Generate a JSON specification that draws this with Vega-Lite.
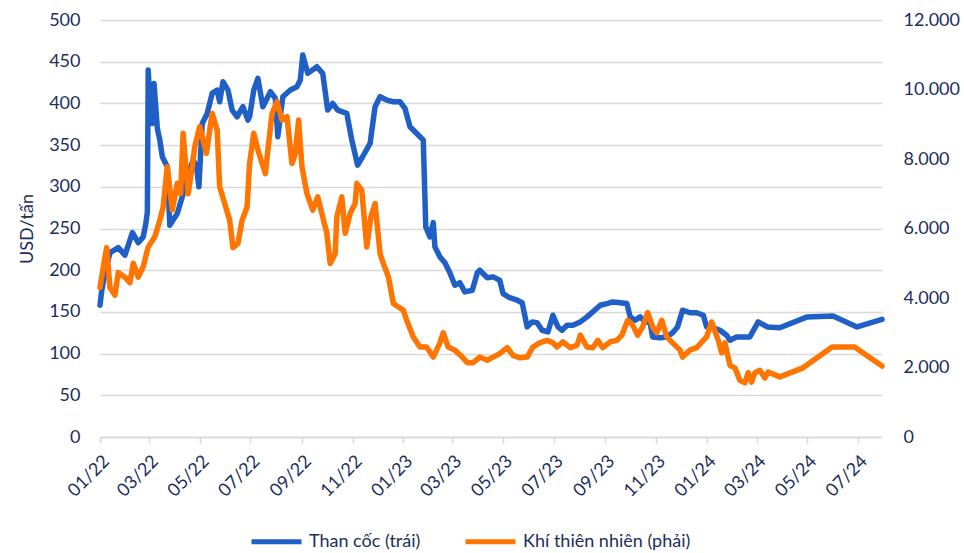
{
  "$schema": "https://vega.github.io/schema/vega-lite/v6.json",
  "width": 782,
  "height": 417,
  "autosize": {"type": "none"},
  "padding": {"left": 100, "top": 20, "right": 82, "bottom": 116},
  "background": "white",
  "config": {
    "font": "Lato",
    "view": {"stroke": null},
    "axis": {"labelFontSize": 18, "labelColor": "#1c2e5e", "titleColor": "#1c2e5e", "titleFontSize": 18, "titleFontWeight": "normal"}
  },
  "datasets": {
    "coke": [
      {"d":"2022-01-01","s":"Than cốc (trái)","v":158},{"d":"2022-01-03","s":"Than cốc (trái)","v":175},{"d":"2022-01-07","s":"Than cốc (trái)","v":197},{"d":"2022-01-13","s":"Than cốc (trái)","v":221},{"d":"2022-01-23","s":"Than cốc (trái)","v":227},{"d":"2022-01-31","s":"Than cốc (trái)","v":218},{"d":"2022-02-09","s":"Than cốc (trái)","v":245},{"d":"2022-02-16","s":"Than cốc (trái)","v":233},{"d":"2022-02-22","s":"Than cốc (trái)","v":240},{"d":"2022-02-25","s":"Than cốc (trái)","v":255},{"d":"2022-02-27","s":"Than cốc (trái)","v":270},{"d":"2022-02-28","s":"Than cốc (trái)","v":440},{"d":"2022-03-02","s":"Than cốc (trái)","v":400},{"d":"2022-03-05","s":"Than cốc (trái)","v":376},{"d":"2022-03-07","s":"Than cốc (trái)","v":424},{"d":"2022-03-11","s":"Than cốc (trái)","v":370},{"d":"2022-03-14","s":"Than cốc (trái)","v":356},{"d":"2022-03-17","s":"Than cốc (trái)","v":336},{"d":"2022-03-23","s":"Than cốc (trái)","v":324},{"d":"2022-03-26","s":"Than cốc (trái)","v":254},{"d":"2022-04-04","s":"Than cốc (trái)","v":268},{"d":"2022-04-10","s":"Than cốc (trái)","v":288},{"d":"2022-04-17","s":"Than cốc (trái)","v":316},{"d":"2022-04-23","s":"Than cốc (trái)","v":332},{"d":"2022-04-27","s":"Than cốc (trái)","v":325},{"d":"2022-04-30","s":"Than cốc (trái)","v":300},{"d":"2022-05-04","s":"Than cốc (trái)","v":376},{"d":"2022-05-10","s":"Than cốc (trái)","v":388},{"d":"2022-05-16","s":"Than cốc (trái)","v":412},{"d":"2022-05-22","s":"Than cốc (trái)","v":416},{"d":"2022-05-25","s":"Than cốc (trái)","v":402},{"d":"2022-05-29","s":"Than cốc (trái)","v":426},{"d":"2022-06-04","s":"Than cốc (trái)","v":416},{"d":"2022-06-09","s":"Than cốc (trái)","v":392},{"d":"2022-06-15","s":"Than cốc (trái)","v":384},{"d":"2022-06-22","s":"Than cốc (trái)","v":396},{"d":"2022-06-28","s":"Than cốc (trái)","v":380},{"d":"2022-06-30","s":"Than cốc (trái)","v":384},{"d":"2022-07-05","s":"Than cốc (trái)","v":416},{"d":"2022-07-10","s":"Than cốc (trái)","v":430},{"d":"2022-07-16","s":"Than cốc (trái)","v":396},{"d":"2022-07-25","s":"Than cốc (trái)","v":414},{"d":"2022-07-31","s":"Than cốc (trái)","v":406},{"d":"2022-08-03","s":"Than cốc (trái)","v":360},{"d":"2022-08-09","s":"Than cốc (trái)","v":408},{"d":"2022-08-18","s":"Than cốc (trái)","v":416},{"d":"2022-08-26","s":"Than cốc (trái)","v":420},{"d":"2022-08-30","s":"Than cốc (trái)","v":428},{"d":"2022-09-02","s":"Than cốc (trái)","v":458},{"d":"2022-09-08","s":"Than cốc (trái)","v":436},{"d":"2022-09-19","s":"Than cốc (trái)","v":444},{"d":"2022-09-26","s":"Than cốc (trái)","v":436},{"d":"2022-10-02","s":"Than cốc (trái)","v":392},{"d":"2022-10-08","s":"Than cốc (trái)","v":400},{"d":"2022-10-14","s":"Than cốc (trái)","v":392},{"d":"2022-10-25","s":"Than cốc (trái)","v":388},{"d":"2022-10-31","s":"Than cốc (trái)","v":356},{"d":"2022-11-07","s":"Than cốc (trái)","v":326},{"d":"2022-11-13","s":"Than cốc (trái)","v":336},{"d":"2022-11-22","s":"Than cốc (trái)","v":352},{"d":"2022-11-28","s":"Than cốc (trái)","v":396},{"d":"2022-12-04","s":"Than cốc (trái)","v":408},{"d":"2022-12-12","s":"Than cốc (trái)","v":404},{"d":"2022-12-20","s":"Than cốc (trái)","v":402},{"d":"2022-12-28","s":"Than cốc (trái)","v":402},{"d":"2023-01-03","s":"Than cốc (trái)","v":394},{"d":"2023-01-09","s":"Than cốc (trái)","v":372},{"d":"2023-01-21","s":"Than cốc (trái)","v":360},{"d":"2023-01-25","s":"Than cốc (trái)","v":356},{"d":"2023-01-28","s":"Than cốc (trái)","v":252},{"d":"2023-02-02","s":"Than cốc (trái)","v":240},{"d":"2023-02-06","s":"Than cốc (trái)","v":257},{"d":"2023-02-08","s":"Than cốc (trái)","v":228},{"d":"2023-02-14","s":"Than cốc (trái)","v":216},{"d":"2023-02-20","s":"Than cốc (trái)","v":209},{"d":"2023-02-26","s":"Than cốc (trái)","v":197},{"d":"2023-03-04","s":"Than cốc (trái)","v":182},{"d":"2023-03-10","s":"Than cốc (trái)","v":185},{"d":"2023-03-16","s":"Than cốc (trái)","v":174},{"d":"2023-03-25","s":"Than cốc (trái)","v":176},{"d":"2023-03-31","s":"Than cốc (trái)","v":197},{"d":"2023-04-03","s":"Than cốc (trái)","v":200},{"d":"2023-04-12","s":"Than cốc (trái)","v":191},{"d":"2023-04-19","s":"Than cốc (trái)","v":192},{"d":"2023-04-27","s":"Than cốc (trái)","v":188},{"d":"2023-05-01","s":"Than cốc (trái)","v":172},{"d":"2023-05-09","s":"Than cốc (trái)","v":167},{"d":"2023-05-18","s":"Than cốc (trái)","v":164},{"d":"2023-05-24","s":"Than cốc (trái)","v":161},{"d":"2023-05-30","s":"Than cốc (trái)","v":132},{"d":"2023-06-05","s":"Than cốc (trái)","v":138},{"d":"2023-06-11","s":"Than cốc (trái)","v":137},{"d":"2023-06-17","s":"Than cốc (trái)","v":128},{"d":"2023-06-24","s":"Than cốc (trái)","v":126},{"d":"2023-06-30","s":"Than cốc (trái)","v":146},{"d":"2023-07-06","s":"Than cốc (trái)","v":132},{"d":"2023-07-11","s":"Than cốc (trái)","v":128},{"d":"2023-07-17","s":"Than cốc (trái)","v":134},{"d":"2023-07-24","s":"Than cốc (trái)","v":134},{"d":"2023-08-02","s":"Than cốc (trái)","v":138},{"d":"2023-08-10","s":"Than cốc (trái)","v":144},{"d":"2023-08-17","s":"Than cốc (trái)","v":150},{"d":"2023-08-26","s":"Than cốc (trái)","v":158},{"d":"2023-09-03","s":"Than cốc (trái)","v":160},{"d":"2023-09-10","s":"Than cốc (trái)","v":162},{"d":"2023-09-19","s":"Than cốc (trái)","v":161},{"d":"2023-09-27","s":"Than cốc (trái)","v":160},{"d":"2023-10-01","s":"Than cốc (trái)","v":144},{"d":"2023-10-07","s":"Than cốc (trái)","v":140},{"d":"2023-10-13","s":"Than cốc (trái)","v":144},{"d":"2023-10-19","s":"Than cốc (trái)","v":138},{"d":"2023-10-25","s":"Than cốc (trái)","v":137},{"d":"2023-10-28","s":"Than cốc (trái)","v":120},{"d":"2023-11-06","s":"Than cốc (trái)","v":119},{"d":"2023-11-14","s":"Than cốc (trái)","v":120},{"d":"2023-11-21","s":"Than cốc (trái)","v":125},{"d":"2023-11-27","s":"Than cốc (trái)","v":132},{"d":"2023-12-03","s":"Than cốc (trái)","v":152},{"d":"2023-12-12","s":"Than cốc (trái)","v":149},{"d":"2023-12-20","s":"Than cốc (trái)","v":149},{"d":"2023-12-28","s":"Than cốc (trái)","v":146},{"d":"2024-01-01","s":"Than cốc (trái)","v":132},{"d":"2024-01-09","s":"Than cốc (trái)","v":131},{"d":"2024-01-17","s":"Than cốc (trái)","v":128},{"d":"2024-01-25","s":"Than cốc (trái)","v":122},{"d":"2024-01-29","s":"Than cốc (trái)","v":116},{"d":"2024-02-06","s":"Than cốc (trái)","v":120},{"d":"2024-02-22","s":"Than cốc (trái)","v":120},{"d":"2024-03-03","s":"Than cốc (trái)","v":138},{"d":"2024-03-14","s":"Than cốc (trái)","v":132},{"d":"2024-03-29","s":"Than cốc (trái)","v":131},{"d":"2024-05-01","s":"Than cốc (trái)","v":144},{"d":"2024-06-01","s":"Than cốc (trái)","v":145},{"d":"2024-06-30","s":"Than cốc (trái)","v":132},{"d":"2024-07-30","s":"Than cốc (trái)","v":141}
    ],
    "gas": [
      {"d":"2022-01-01","s":"Khí thiên nhiên (phải)","v":4300},{"d":"2022-01-05","s":"Khí thiên nhiên (phải)","v":4900},{"d":"2022-01-09","s":"Khí thiên nhiên (phải)","v":5450},{"d":"2022-01-13","s":"Khí thiên nhiên (phải)","v":4300},{"d":"2022-01-19","s":"Khí thiên nhiên (phải)","v":4080},{"d":"2022-01-23","s":"Khí thiên nhiên (phải)","v":4730},{"d":"2022-01-31","s":"Khí thiên nhiên (phải)","v":4600},{"d":"2022-02-06","s":"Khí thiên nhiên (phải)","v":4440},{"d":"2022-02-10","s":"Khí thiên nhiên (phải)","v":5000},{"d":"2022-02-16","s":"Khí thiên nhiên (phải)","v":4600},{"d":"2022-02-22","s":"Khí thiên nhiên (phải)","v":4900},{"d":"2022-02-28","s":"Khí thiên nhiên (phải)","v":5470},{"d":"2022-03-08","s":"Khí thiên nhiên (phải)","v":5760},{"d":"2022-03-14","s":"Khí thiên nhiên (phải)","v":6240},{"d":"2022-03-18","s":"Khí thiên nhiên (phải)","v":6620},{"d":"2022-03-23","s":"Khí thiên nhiên (phải)","v":7780},{"d":"2022-03-29","s":"Khí thiên nhiên (phải)","v":6530},{"d":"2022-04-04","s":"Khí thiên nhiên (phải)","v":7300},{"d":"2022-04-08","s":"Khí thiên nhiên (phải)","v":7000},{"d":"2022-04-11","s":"Khí thiên nhiên (phải)","v":8740},{"d":"2022-04-17","s":"Khí thiên nhiên (phải)","v":7000},{"d":"2022-04-22","s":"Khí thiên nhiên (phải)","v":7780},{"d":"2022-04-25","s":"Khí thiên nhiên (phải)","v":8350},{"d":"2022-05-01","s":"Khí thiên nhiên (phải)","v":8930},{"d":"2022-05-09","s":"Khí thiên nhiên (phải)","v":8160},{"d":"2022-05-16","s":"Khí thiên nhiên (phải)","v":9310},{"d":"2022-05-22","s":"Khí thiên nhiên (phải)","v":8830},{"d":"2022-05-25","s":"Khí thiên nhiên (phải)","v":7200},{"d":"2022-05-31","s":"Khí thiên nhiên (phải)","v":6720},{"d":"2022-06-06","s":"Khí thiên nhiên (phải)","v":6240},{"d":"2022-06-10","s":"Khí thiên nhiên (phải)","v":5450},{"d":"2022-06-16","s":"Khí thiên nhiên (phải)","v":5570},{"d":"2022-06-21","s":"Khí thiên nhiên (phải)","v":6240},{"d":"2022-06-27","s":"Khí thiên nhiên (phải)","v":6620},{"d":"2022-06-30","s":"Khí thiên nhiên (phải)","v":7870},{"d":"2022-07-05","s":"Khí thiên nhiên (phải)","v":8740},{"d":"2022-07-10","s":"Khí thiên nhiên (phải)","v":8260},{"d":"2022-07-19","s":"Khí thiên nhiên (phải)","v":7580},{"d":"2022-07-22","s":"Khí thiên nhiên (phải)","v":8260},{"d":"2022-07-27","s":"Khí thiên nhiên (phải)","v":9310},{"d":"2022-08-02","s":"Khí thiên nhiên (phải)","v":9650},{"d":"2022-08-08","s":"Khí thiên nhiên (phải)","v":9120},{"d":"2022-08-14","s":"Khí thiên nhiên (phải)","v":9220},{"d":"2022-08-20","s":"Khí thiên nhiên (phải)","v":7870},{"d":"2022-08-24","s":"Khí thiên nhiên (phải)","v":8160},{"d":"2022-08-28","s":"Khí thiên nhiên (phải)","v":9120},{"d":"2022-09-01","s":"Khí thiên nhiên (phải)","v":7780},{"d":"2022-09-07","s":"Khí thiên nhiên (phải)","v":7010},{"d":"2022-09-14","s":"Khí thiên nhiên (phải)","v":6530},{"d":"2022-09-20","s":"Khí thiên nhiên (phải)","v":6910},{"d":"2022-09-25","s":"Khí thiên nhiên (phải)","v":6430},{"d":"2022-10-01","s":"Khí thiên nhiên (phải)","v":5860},{"d":"2022-10-05","s":"Khí thiên nhiên (phải)","v":4990},{"d":"2022-10-11","s":"Khí thiên nhiên (phải)","v":5280},{"d":"2022-10-13","s":"Khí thiên nhiên (phải)","v":6340},{"d":"2022-10-19","s":"Khí thiên nhiên (phải)","v":6910},{"d":"2022-10-23","s":"Khí thiên nhiên (phải)","v":5860},{"d":"2022-10-29","s":"Khí thiên nhiên (phải)","v":6430},{"d":"2022-11-04","s":"Khí thiên nhiên (phải)","v":6720},{"d":"2022-11-06","s":"Khí thiên nhiên (phải)","v":7300},{"d":"2022-11-12","s":"Khí thiên nhiên (phải)","v":7100},{"d":"2022-11-18","s":"Khí thiên nhiên (phải)","v":5470},{"d":"2022-11-23","s":"Khí thiên nhiên (phải)","v":6340},{"d":"2022-11-28","s":"Khí thiên nhiên (phải)","v":6720},{"d":"2022-12-04","s":"Khí thiên nhiên (phải)","v":5280},{"d":"2022-12-08","s":"Khí thiên nhiên (phải)","v":4990},{"d":"2022-12-14","s":"Khí thiên nhiên (phải)","v":4610},{"d":"2022-12-20","s":"Khí thiên nhiên (phải)","v":3840},{"d":"2022-12-26","s":"Khí thiên nhiên (phải)","v":3740},{"d":"2023-01-01","s":"Khí thiên nhiên (phải)","v":3650},{"d":"2023-01-05","s":"Khí thiên nhiên (phải)","v":3360},{"d":"2023-01-13","s":"Khí thiên nhiên (phải)","v":2880},{"d":"2023-01-21","s":"Khí thiên nhiên (phải)","v":2590},{"d":"2023-01-29","s":"Khí thiên nhiên (phải)","v":2590},{"d":"2023-02-06","s":"Khí thiên nhiên (phải)","v":2300},{"d":"2023-02-14","s":"Khí thiên nhiên (phải)","v":2710},{"d":"2023-02-18","s":"Khí thiên nhiên (phải)","v":3000},{"d":"2023-02-24","s":"Khí thiên nhiên (phải)","v":2590},{"d":"2023-03-04","s":"Khí thiên nhiên (phải)","v":2500},{"d":"2023-03-13","s":"Khí thiên nhiên (phải)","v":2300},{"d":"2023-03-19","s":"Khí thiên nhiên (phải)","v":2140},{"d":"2023-03-26","s":"Khí thiên nhiên (phải)","v":2140},{"d":"2023-04-03","s":"Khí thiên nhiên (phải)","v":2300},{"d":"2023-04-12","s":"Khí thiên nhiên (phải)","v":2210},{"d":"2023-04-19","s":"Khí thiên nhiên (phải)","v":2300},{"d":"2023-04-27","s":"Khí thiên nhiên (phải)","v":2400},{"d":"2023-05-06","s":"Khí thiên nhiên (phải)","v":2570},{"d":"2023-05-13","s":"Khí thiên nhiên (phải)","v":2350},{"d":"2023-05-21","s":"Khí thiên nhiên (phải)","v":2280},{"d":"2023-05-30","s":"Khí thiên nhiên (phải)","v":2300},{"d":"2023-06-06","s":"Khí thiên nhiên (phải)","v":2590},{"d":"2023-06-14","s":"Khí thiên nhiên (phải)","v":2710},{"d":"2023-06-23","s":"Khí thiên nhiên (phải)","v":2780},{"d":"2023-06-30","s":"Khí thiên nhiên (phải)","v":2710},{"d":"2023-07-05","s":"Khí thiên nhiên (phải)","v":2590},{"d":"2023-07-12","s":"Khí thiên nhiên (phải)","v":2740},{"d":"2023-07-21","s":"Khí thiên nhiên (phải)","v":2570},{"d":"2023-07-29","s":"Khí thiên nhiên (phải)","v":2640},{"d":"2023-08-02","s":"Khí thiên nhiên (phải)","v":2930},{"d":"2023-08-10","s":"Khí thiên nhiên (phải)","v":2590},{"d":"2023-08-17","s":"Khí thiên nhiên (phải)","v":2570},{"d":"2023-08-23","s":"Khí thiên nhiên (phải)","v":2780},{"d":"2023-08-29","s":"Khí thiên nhiên (phải)","v":2570},{"d":"2023-09-07","s":"Khí thiên nhiên (phải)","v":2740},{"d":"2023-09-15","s":"Khí thiên nhiên (phải)","v":2780},{"d":"2023-09-21","s":"Khí thiên nhiên (phải)","v":2930},{"d":"2023-09-28","s":"Khí thiên nhiên (phải)","v":3360},{"d":"2023-10-04","s":"Khí thiên nhiên (phải)","v":3220},{"d":"2023-10-10","s":"Khí thiên nhiên (phải)","v":2930},{"d":"2023-10-16","s":"Khí thiên nhiên (phải)","v":3170},{"d":"2023-10-22","s":"Khí thiên nhiên (phải)","v":3580},{"d":"2023-10-28","s":"Khí thiên nhiên (phải)","v":3170},{"d":"2023-11-02","s":"Khí thiên nhiên (phải)","v":3000},{"d":"2023-11-08","s":"Khí thiên nhiên (phải)","v":3360},{"d":"2023-11-14","s":"Khí thiên nhiên (phải)","v":2880},{"d":"2023-11-21","s":"Khí thiên nhiên (phải)","v":2710},{"d":"2023-11-30","s":"Khí thiên nhiên (phải)","v":2500},{"d":"2023-12-03","s":"Khí thiên nhiên (phải)","v":2300},{"d":"2023-12-12","s":"Khí thiên nhiên (phải)","v":2500},{"d":"2023-12-20","s":"Khí thiên nhiên (phải)","v":2570},{"d":"2023-12-28","s":"Khí thiên nhiên (phải)","v":2780},{"d":"2024-01-01","s":"Khí thiên nhiên (phải)","v":2880},{"d":"2024-01-07","s":"Khí thiên nhiên (phải)","v":3310},{"d":"2024-01-15","s":"Khí thiên nhiên (phải)","v":2780},{"d":"2024-01-19","s":"Khí thiên nhiên (phải)","v":2420},{"d":"2024-01-23","s":"Khí thiên nhiên (phải)","v":2710},{"d":"2024-01-29","s":"Khí thiên nhiên (phải)","v":2060},{"d":"2024-02-04","s":"Khí thiên nhiên (phải)","v":1990},{"d":"2024-02-10","s":"Khí thiên nhiên (phải)","v":1630},{"d":"2024-02-16","s":"Khí thiên nhiên (phải)","v":1560},{"d":"2024-02-20","s":"Khí thiên nhiên (phải)","v":1850},{"d":"2024-02-24","s":"Khí thiên nhiên (phải)","v":1580},{"d":"2024-02-28","s":"Khí thiên nhiên (phải)","v":1850},{"d":"2024-03-05","s":"Khí thiên nhiên (phải)","v":1920},{"d":"2024-03-11","s":"Khí thiên nhiên (phải)","v":1700},{"d":"2024-03-15","s":"Khí thiên nhiên (phải)","v":1870},{"d":"2024-03-29","s":"Khí thiên nhiên (phải)","v":1730},{"d":"2024-04-26","s":"Khí thiên nhiên (phải)","v":1990},{"d":"2024-05-31","s":"Khí thiên nhiên (phải)","v":2590},{"d":"2024-06-27","s":"Khí thiên nhiên (phải)","v":2590},{"d":"2024-07-30","s":"Khí thiên nhiên (phải)","v":2040}
    ]
  },
  "encoding": {
    "x": {
      "field": "d", "type": "temporal",
      "scale": {"type": "utc", "domain": [{"year": 2022, "month": 1, "date": 1, "utc": true}, {"year": 2024, "month": 7, "date": 30, "utc": true}]},
      "axis": {
        "title": null, "format": "%m/%y", "labelAngle": -45, "labelPadding": 9,
        "values": [
          {"year":2022,"month":1,"date":1,"utc":true},{"year":2022,"month":3,"date":1,"utc":true},{"year":2022,"month":5,"date":1,"utc":true},{"year":2022,"month":7,"date":1,"utc":true},{"year":2022,"month":9,"date":1,"utc":true},{"year":2022,"month":11,"date":1,"utc":true},
          {"year":2023,"month":1,"date":1,"utc":true},{"year":2023,"month":3,"date":1,"utc":true},{"year":2023,"month":5,"date":1,"utc":true},{"year":2023,"month":7,"date":1,"utc":true},{"year":2023,"month":9,"date":1,"utc":true},{"year":2023,"month":11,"date":1,"utc":true},
          {"year":2024,"month":1,"date":1,"utc":true},{"year":2024,"month":3,"date":1,"utc":true},{"year":2024,"month":5,"date":1,"utc":true},{"year":2024,"month":7,"date":1,"utc":true}
        ],
        "grid": false, "domainColor": "#d9d9d9", "domainWidth": 1.5, "tickColor": "#d9d9d9", "tickWidth": 1.5, "tickSize": 6
      }
    },
    "color": {
      "field": "s", "type": "nominal",
      "scale": {"domain": ["Than cốc (trái)", "Khí thiên nhiên (phải)"], "range": ["#1f5fc6", "#ff7500"]},
      "legend": {
        "title": null, "orient": "none", "legendX": 149, "legendY": 494, "direction": "horizontal",
        "symbolType": "stroke", "symbolSize": 2500, "symbolStrokeWidth": 5,
        "labelFontSize": 18, "labelColor": "#1c2e5e", "labelLimit": 300, "labelOffset": 5, "columnPadding": 34
      }
    }
  },
  "layer": [
    {
      "data": {"name": "coke"},
      "mark": {"type": "line", "strokeWidth": 5.5, "strokeJoin": "round", "strokeCap": "round"},
      "encoding": {
        "y": {
          "field": "v", "type": "quantitative",
          "scale": {"domain": [0, 500]},
          "axis": {"title": "USD/tấn", "titlePadding": 12, "values": [0,50,100,150,200,250,300,350,400,450,500], "grid": true, "gridColor": "#d9d9d9", "gridWidth": 1.5, "domain": false, "ticks": false, "labelPadding": 20}
        }
      }
    },
    {
      "data": {"name": "gas"},
      "mark": {"type": "line", "strokeWidth": 5.5, "strokeJoin": "round", "strokeCap": "round"},
      "encoding": {
        "y": {
          "field": "v", "type": "quantitative",
          "scale": {"domain": [0, 12000]},
          "axis": {"orient": "right", "title": null, "values": [0,2000,4000,6000,8000,10000,12000], "labelExpr": "replace(format(datum.value, ','), ',', '.')", "grid": false, "domain": false, "ticks": false, "labelPadding": 21}
        }
      }
    }
  ],
  "resolve": {"scale": {"y": "independent"}}
}
